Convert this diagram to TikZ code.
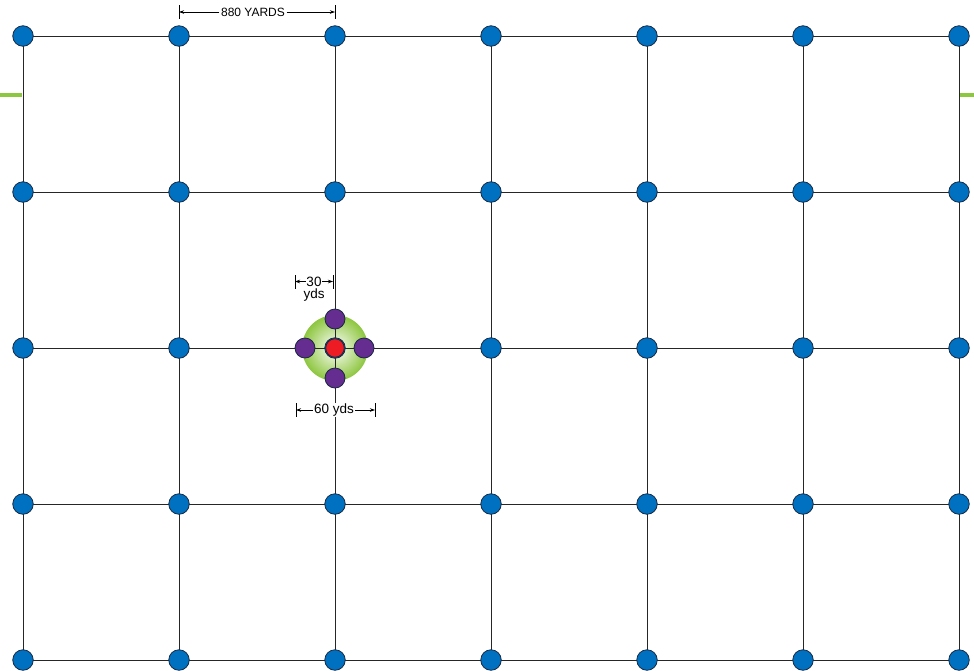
\documentclass[tikz,border=0pt]{standalone}
\usepackage{fontspec}
\setmainfont{Liberation Sans}
\usetikzlibrary{arrows.meta,backgrounds}
\definecolor{dotblue}{RGB}{0,112,192}
\definecolor{dotedge}{RGB}{25,40,65}
\definecolor{dotpurple}{RGB}{102,45,145}
\definecolor{dotred}{RGB}{237,28,36}
\definecolor{glowgreen}{RGB}{141,198,63}
\tikzset{
  gridnode/.style={circle,draw=dotedge,fill=dotblue,line width=0.8pt,minimum size=20.5pt,inner sep=0pt},
  purplenode/.style={circle,draw=dotedge,fill=dotpurple,line width=0.8pt,minimum size=20pt,inner sep=0pt},
  rednode/.style={circle,draw=dotedge,fill=dotred,line width=0.8pt,minimum size=18.5pt,inner sep=0pt},
  gridline/.style={draw=black!85,line width=1pt},
  greenbar/.style={draw=glowgreen,line width=4pt},
  dimtick/.style={draw=black,line width=0.7pt},
  dimarrow/.style={draw=black,line width=0.7pt,-{Stealth[length=5pt,width=3.5pt]}},
  dimlabel/.style={fill=white,inner sep=1.5pt},
}
\begin{document}
\begin{tikzpicture}[x=1pt,y=-1pt]
\useasboundingbox (0,0) rectangle (974,670);
% grid nodes
\foreach \i in {0,...,6}{
  \foreach \j in {0,...,4}{
    \node[gridnode] (g-\i-\j) at ({23+156*\i},{36+156*\j}) {};
  }
}
% cluster
\node[rednode] (c) at (335,348) {};
\node[purplenode] (pn) at (335,319) {};
\node[purplenode] (pw) at (305,348) {};
\node[purplenode] (pe) at (364,348) {};
\node[purplenode] (ps) at (335,378) {};
\begin{pgfonlayer}{background}
  \shade[inner color=white,outer color=glowgreen] (335,348) circle (33);
  \foreach \j in {0,...,4}{
    \draw[gridline] (g-0-\j.center) -- (g-6-\j.center);
  }
  \foreach \i in {0,...,6}{
    \draw[gridline] (g-\i-0.center) -- (g-\i-4.center);
  }
\end{pgfonlayer}
% green stubs
\coordinate (glA) at (0,95);
\coordinate (glB) at (22,95);
\coordinate (grA) at (960,95);
\coordinate (grB) at (974,95);
\draw[greenbar] (glA) -- (glB);
\draw[greenbar] (grA) -- (grB);
% 880 yards dimension
\coordinate (t1a) at (179,5); \coordinate (t1b) at (179,19);
\coordinate (t2a) at (335,5); \coordinate (t2b) at (335,19);
\draw[dimtick] (t1a) -- (t1b);
\draw[dimtick] (t2a) -- (t2b);
\node[dimlabel,font=\fontsize{12}{13}\selectfont] (d880) at (253,12) {880 YARDS};
\draw[dimarrow] (d880.west) -- (179,12);
\draw[dimarrow] (d880.east) -- (335,12);
% 30 yds dimension
\coordinate (t3a) at (295,275); \coordinate (t3b) at (295,289);
\coordinate (t4a) at (333,275); \coordinate (t4b) at (333,289);
\draw[dimtick] (t3a) -- (t3b);
\draw[dimtick] (t4a) -- (t4b);
\node[dimlabel,inner sep=0.5pt,font=\fontsize{13.5}{14}\selectfont] (d30) at (314,281.5) {30};
\node[inner sep=0pt,font=\fontsize{13.5}{14}\selectfont] (d30y) at (314,295.5) {yds};
\draw[dimarrow] (d30.west) -- (295,281.5);
\draw[dimarrow] (d30.east) -- (333,281.5);
% 60 yds dimension
\coordinate (t5a) at (296,403); \coordinate (t5b) at (296,417);
\coordinate (t6a) at (375,403); \coordinate (t6b) at (375,417);
\draw[dimtick] (t5a) -- (t5b);
\draw[dimtick] (t6a) -- (t6b);
\node[dimlabel,inner sep=1pt,font=\fontsize{13.5}{14}\selectfont] (d60) at (334,410) {60 yds};
\draw[dimarrow] (d60.west) -- (296,410);
\draw[dimarrow] (d60.east) -- (375,410);
\end{tikzpicture}
\end{document}
